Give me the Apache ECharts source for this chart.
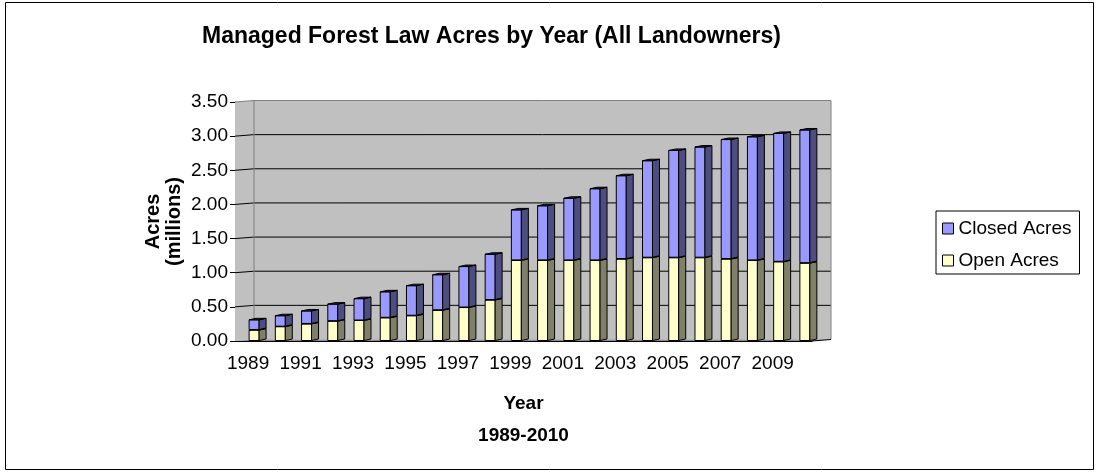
<!DOCTYPE html>
<html>
<head>
<meta charset="utf-8">
<script src="https://cdn.jsdelivr.net/npm/echarts@6/dist/echarts.min.js"></script>
<style>
  html, body { margin: 0; padding: 0; background: #fff; }
  #chart { width: 1097px; height: 475px; }
</style>
</head>
<body>
<div id="chart"></div>
<script>
// Managed Forest Law enrolment, millions of acres
const years = ['1989', '1990', '1991', '1992', '1993', '1994', '1995', '1996', '1997', '1998', '1999',
               '2000', '2001', '2002', '2003', '2004', '2005', '2006', '2007', '2008', '2009', '2010'];
const openAcres = [0.16, 0.21, 0.25, 0.29, 0.30, 0.34, 0.37, 0.45, 0.49, 0.60, 1.18,
                   1.18, 1.18, 1.18, 1.20, 1.22, 1.22, 1.22, 1.20, 1.18, 1.16, 1.14];
const closedAcres = [0.15, 0.16, 0.19, 0.25, 0.32, 0.38, 0.44, 0.52, 0.60, 0.67, 0.74,
                     0.80, 0.91, 1.05, 1.22, 1.42, 1.57, 1.62, 1.75, 1.81, 1.88, 1.95];
const seriesNames = ['Closed Acres', 'Open Acres'];

const FONT = '"Liberation Sans", Arial, sans-serif';

// pseudo-3D geometry
const WALL_DX = 19, WALL_DY = 1.5;   // depth of the back wall
const BAR_DX = 7, BAR_DY = 1.5;      // depth of each column
const BAR_FRAC = 0.38;               // front face width as share of a category

const chart = echarts.init(document.getElementById('chart'));

// stacked segments [index, bottom, top]
const openData = openAcres.map((v, i) => [i, 0, v]);
const closedData = closedAcres.map((v, i) => [i, openAcres[i], openAcres[i] + v]);

function columnRenderer(front, side, topFill) {
  return function (params, api) {
    const i = api.value(0);
    const band = api.size([1, 0])[0];
    const b = api.coord([i, api.value(1)]);
    const t = api.coord([i, api.value(2)]);
    const w = band * BAR_FRAC;
    const x0 = b[0] + 1, x1 = x0 + w;
    const yb = b[1] - 0.5, yt = t[1];
    const stroke = { stroke: '#000', lineWidth: 1, lineJoin: 'round' };
    return {
      type: 'group',
      children: [
        { type: 'polygon', shape: { points: [[x0, yb], [x1, yb], [x1, yt], [x0, yt]] },
          style: Object.assign({ fill: front }, stroke) },
        { type: 'polygon', shape: { points: [[x1, yb], [x1 + BAR_DX, yb - BAR_DY], [x1 + BAR_DX, yt - BAR_DY], [x1, yt]] },
          style: Object.assign({ fill: side }, stroke) },
        { type: 'polygon', shape: { points: [[x0, yt], [x1, yt], [x1 + BAR_DX, yt - BAR_DY], [x0 + BAR_DX, yt - BAR_DY]] },
          style: Object.assign({ fill: topFill }, stroke) }
      ]
    };
  };
}

function wallRenderer(params, api) {
  const cs = params.coordSys;
  const xl = cs.x, xr = cs.x + cs.width;
  const yTop = api.coord([0, 3.5])[1];
  const yBot = api.coord([0, 0])[1];
  const children = [];
  // side wall + back wall
  children.push({ type: 'polygon', shape: { points: [[xl, yTop], [xl + WALL_DX, yTop - WALL_DY], [xl + WALL_DX, yBot - WALL_DY], [xl, yBot]] },
    style: { fill: '#c0c0c0' } });
  children.push({ type: 'polygon', shape: { points: [[xl + WALL_DX, yTop - WALL_DY], [xr + WALL_DX, yTop - WALL_DY], [xr + WALL_DX, yBot - WALL_DY], [xl + WALL_DX, yBot - WALL_DY]] },
    style: { fill: '#c0c0c0' } });
  // gridlines across both walls
  for (let v = 0.5; v < 3.5; v += 0.5) {
    const y = api.coord([0, v])[1];
    children.push({ type: 'polyline', shape: { points: [[xl, y], [xl + WALL_DX, y - WALL_DY], [xr + WALL_DX, y - WALL_DY]] },
      style: { stroke: '#000', lineWidth: 1, fill: null } });
  }
  // wall edges
  children.push({ type: 'polyline', shape: { points: [[xl, yTop], [xl + WALL_DX, yTop - WALL_DY], [xr + WALL_DX, yTop - WALL_DY], [xr + WALL_DX, yBot - WALL_DY]] },
    style: { stroke: '#808080', lineWidth: 1, fill: null } });
  children.push({ type: 'line', shape: { x1: xl + WALL_DX, y1: yTop - WALL_DY, x2: xl + WALL_DX, y2: yBot - WALL_DY },
    style: { stroke: '#808080', lineWidth: 1 } });
  // floor
  children.push({ type: 'polygon', shape: { points: [[xl, yBot], [xr, yBot], [xr + WALL_DX, yBot - WALL_DY], [xl + WALL_DX, yBot - WALL_DY]] },
    style: { fill: '#8a8a8a' } });
  children.push({ type: 'line', shape: { x1: xr, y1: yBot, x2: xr + WALL_DX, y2: yBot - WALL_DY },
    style: { stroke: '#000', lineWidth: 1 } });
  return { type: 'group', children };
}

chart.setOption({
  animation: false,
  backgroundColor: '#fff',
  graphic: [{
    type: 'rect', shape: { x: 5.5, y: 2.5, width: 1088, height: 467 },
    style: { fill: null, stroke: '#000', lineWidth: 1 }, z: -10
  }],
  title: {
    text: 'Managed Forest Law Acres by Year (All Landowners)',
    left: 202, top: 25, padding: 0,
    textStyle: { fontFamily: FONT, fontSize: 23, fontWeight: 'bold', color: '#000' }
  },
  legend: {
    orient: 'vertical', left: 936, top: 211,
    padding: [8, 8, 4, 6], itemGap: 13, itemWidth: 11, itemHeight: 11,
    icon: 'rect', borderColor: '#000', borderWidth: 1, borderRadius: 0,
    backgroundColor: '#fff',
    itemStyle: { borderColor: '#000', borderWidth: 1 },
    textStyle: { fontFamily: FONT, fontSize: 19, color: '#000' },
    data: seriesNames
  },
  grid: { left: 235, right: 285, top: 102, bottom: 134 },
  xAxis: {
    type: 'category', data: years,
    name: 'Year\n1989-2010', nameLocation: 'middle', nameGap: 47,
    nameMoveOverlap: false,
    nameTextStyle: { fontFamily: FONT, fontSize: 19, fontWeight: 'bold', color: '#000', lineHeight: 32 },
    axisLine: { lineStyle: { color: '#000', width: 1 } },
    axisTick: { length: 5, interval: 0, lineStyle: { color: '#000' } },
    axisLabel: { interval: 1, margin: 13, fontFamily: FONT, fontSize: 19, color: '#000' },
    splitLine: { show: false }
  },
  yAxis: {
    type: 'value', min: 0, max: 3.5, interval: 0.5,
    name: 'Acres\n(millions)', nameLocation: 'middle', nameGap: 50, nameRotate: 90,
    nameMoveOverlap: false,
    nameTextStyle: { fontFamily: FONT, fontSize: 20, fontWeight: 'bold', color: '#000', lineHeight: 21 },
    axisLine: { show: true, lineStyle: { color: '#000', width: 1 } },
    axisTick: { show: true, length: 5, lineStyle: { color: '#000' } },
    axisLabel: { margin: 7, fontFamily: FONT, fontSize: 19, color: '#000', formatter: v => v.toFixed(2) },
    splitLine: { show: false }
  },
  series: [
    {
      name: 'walls', type: 'custom', data: [[0, 0, 0]], renderItem: wallRenderer,
      encode: { x: 0, y: 1 }, z: 1, silent: true, tooltip: { show: false }
    },
    {
      name: seriesNames[1], type: 'custom', data: openData,
      encode: { x: 0, y: [1, 2] }, z: 2,
      itemStyle: { color: '#ffffcc', borderColor: '#000', borderWidth: 1 },
      renderItem: columnRenderer('#ffffcc', '#80806a', '#b3b38f')
    },
    {
      name: seriesNames[0], type: 'custom', data: closedData,
      encode: { x: 0, y: [1, 2] }, z: 3,
      itemStyle: { color: '#9999ff', borderColor: '#000', borderWidth: 1 },
      renderItem: columnRenderer('#9999ff', '#4d4d80', '#26264d')
    }
  ]
});
</script>
</body>
</html>
